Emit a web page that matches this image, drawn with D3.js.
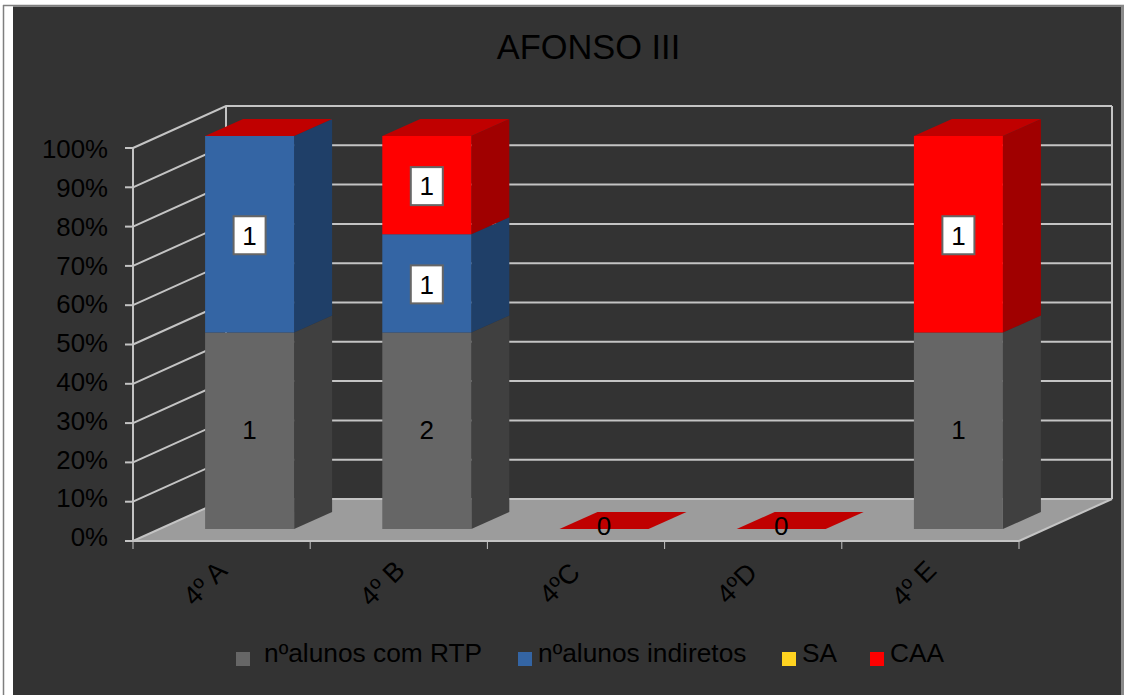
<!DOCTYPE html>
<html>
<head>
<meta charset="utf-8">
<script src="https://cdn.jsdelivr.net/npm/d3@7/dist/d3.min.js"></script>
<style>
html,body{margin:0;padding:0;background:#fff;overflow:hidden}
svg{display:block}
text{font-family:"Liberation Sans",Arial,sans-serif;fill:#000}
</style>
</head>
<body>
<svg id="c" width="1128" height="695"></svg>
<script>
const title = "AFONSO III";
const categories = ["4º A","4º B","4ºC","4ºD","4º E"];
const seriesNames = ["nºalunos com RTP","nºalunos indiretos","SA","CAA"];
const rtp       = [1,2,0,0,1];
const indiretos = [1,1,0,0,0];
const sa        = [0,0,0,0,0];
const caa       = [0,1,0,0,1];
const yTicks = [0,.1,.2,.3,.4,.5,.6,.7,.8,.9,1];

const frontColors = ["#666666","#3465a4","#ffd320","#ff0000"];
const sideColors  = ["#404040","#1f3f68","#a08414","#a00000"];
const topColor = "#c00000";

const svg = d3.select("#c");
const table = categories.map((c,i)=>({cat:c,"0":rtp[i],"1":indiretos[i],"2":sa[i],"3":caa[i]}));
const stacked = d3.stack().keys(["0","1","2","3"]).offset(d3.stackOffsetExpand)(table);

const x = d3.scaleBand().domain(categories).range([133,1019]);
const y = d3.scaleLinear().domain([0,1]).range([541,148]);
const yLabel = d3.scaleLinear().domain([0,1]).range([537,149]);
const depth = {dx:93,dy:-42};      // full floor depth
const inset = {dx:28,dy:-12};      // bar front plane within the floor
const barDepth = {dx:38,dy:-17};   // bar's own depth
const barW = 89;

// frame
svg.append("rect").attr("x",3).attr("y",5).attr("width",1121).attr("height",690).attr("fill","#fff");
svg.append("line").attr("x1",3.5).attr("x2",3.5).attr("y1",5).attr("y2",695).attr("stroke","#7f7f7f").attr("stroke-width",1.5);
svg.append("line").attr("x1",3).attr("x2",1124).attr("y1",5.5).attr("y2",5.5).attr("stroke","#7f7f7f").attr("stroke-width",1.5);
svg.append("rect").attr("x",13).attr("y",6.5).attr("width",1109).attr("height",689).attr("fill","#333333");
svg.append("line").attr("x1",1122.5).attr("x2",1122.5).attr("y1",5).attr("y2",695).attr("stroke","#8a8a8a").attr("stroke-width",3);

// title
svg.append("text").attr("x",588.5).attr("y",59).attr("text-anchor","middle").attr("font-size",34.4).text(title);

const gridC = "#c4c4c4";
const x0 = x.range()[0], x1 = x.range()[1];
// floor
svg.append("polygon").attr("fill","#9c9c9c").attr("points",[
  [x0,y(0)],[x1,y(0)],[x1+depth.dx,y(0)+depth.dy],[x0+depth.dx,y(0)+depth.dy]
].join(" "));
// grid lines on walls
const grid = svg.append("g").attr("fill","none").attr("stroke",gridC).attr("stroke-width",2);
yTicks.forEach(t=>{
  grid.append("polyline").attr("points",[
    [x0,y(t)],[x0+depth.dx,y(t)+depth.dy],[x1+depth.dx,y(t)+depth.dy]
  ].join(" "));
});
grid.append("line").attr("x1",x0).attr("x2",x0).attr("y1",y(0)).attr("y2",y(1));
grid.append("line").attr("x1",x0+depth.dx).attr("x2",x0+depth.dx).attr("y1",y(0)+depth.dy).attr("y2",y(1)+depth.dy);
grid.append("line").attr("x1",x1+depth.dx).attr("x2",x1+depth.dx).attr("y1",y(0)+depth.dy).attr("y2",y(1)+depth.dy);
grid.append("line").attr("x1",x1).attr("x2",x1+depth.dx).attr("y1",y(0)).attr("y2",y(0)+depth.dy);

// axes
const axisG = svg.append("g").attr("stroke",gridC).attr("stroke-width",2);
axisG.append("line").attr("x1",x0).attr("x2",x1).attr("y1",y(0)).attr("y2",y(0));
yTicks.forEach(t=>axisG.append("line").attr("x1",x0-8).attr("x2",x0).attr("y1",y(t)).attr("y2",y(t)));
const xEdges = categories.map(c=>x(c)).concat([x1]);
xEdges.forEach(v=>axisG.append("line").attr("x1",v).attr("x2",v).attr("y1",y(0)).attr("y2",y(0)+8).attr("stroke-width",1));

// y labels
svg.append("g").selectAll("text").data(yTicks).join("text")
  .attr("x",108).attr("y",d=>yLabel(d)).attr("dy",".36em").attr("text-anchor","end")
  .attr("font-size",25.8).text(d3.format(".0%"));

// category labels
svg.append("g").selectAll("text").data(categories).join("text")
  .attr("text-anchor","middle").attr("dy",".36em").attr("font-size",27)
  .attr("transform",c=>`translate(${x(c)+x.bandwidth()/2-17},${y(0)+42}) rotate(-45)`)
  .text(c=>c);

// bars
const labels = [];
categories.forEach((c,i)=>{
  const left = x(c)+x.bandwidth()/2+inset.dx-barW/2;
  const right = left+barW;
  const base = inset.dy;
  stacked.forEach((s,k)=>{
    const a = s[i][0]||0, b = s[i][1]||0;
    const ya = y(a)+base, yb = y(b)+base;
    if(b>a){
      svg.append("polygon").attr("fill",sideColors[k]).attr("points",[
        [right,ya],[right,yb],[right+barDepth.dx,yb+barDepth.dy],[right+barDepth.dx,ya+barDepth.dy]
      ].join(" "));
      svg.append("rect").attr("x",left).attr("y",yb).attr("width",barW).attr("height",ya-yb).attr("fill",frontColors[k]);
      labels.push({x:(left+right)/2,y:(ya+yb)/2,text:table[i][String(k)],box:k>0});
    }
  });
  const total = d3.sum(stacked,s=>(s[i][1]||0)-(s[i][0]||0));
  const topY = y(total)+base;
  svg.append("polygon").attr("fill",topColor).attr("points",[
    [left,topY],[right,topY],[right+barDepth.dx,topY+barDepth.dy],[left+barDepth.dx,topY+barDepth.dy]
  ].join(" "));
  if(total===0) labels.push({x:(left+right)/2,y:topY-2,text:0,box:false});
});

// data labels
const lab = svg.append("g");
labels.forEach(l=>{
  if(l.box){
    lab.append("rect").attr("x",l.x-16).attr("y",l.y-18).attr("width",32).attr("height",38)
      .attr("fill","#fff").attr("stroke","#666").attr("stroke-width",2);
  }
  lab.append("text").attr("x",l.x).attr("y",l.box?l.y+1:l.y-1).attr("dy",".36em")
    .attr("text-anchor","middle").attr("font-size",26).text(l.text);
});

// legend
const legendX = [236,518,782,870];
const legendTextX = [264,538,802,890];
const legendFill = frontColors;
const leg = svg.append("g");
seriesNames.forEach((n,i)=>{
  leg.append("rect").attr("x",legendX[i]).attr("y",652).attr("width",14).attr("height",14).attr("fill",legendFill[i]);
  leg.append("text").attr("x",legendTextX[i]).attr("y",662).attr("font-size",26.3).text(n);
});
</script>
</body>
</html>
